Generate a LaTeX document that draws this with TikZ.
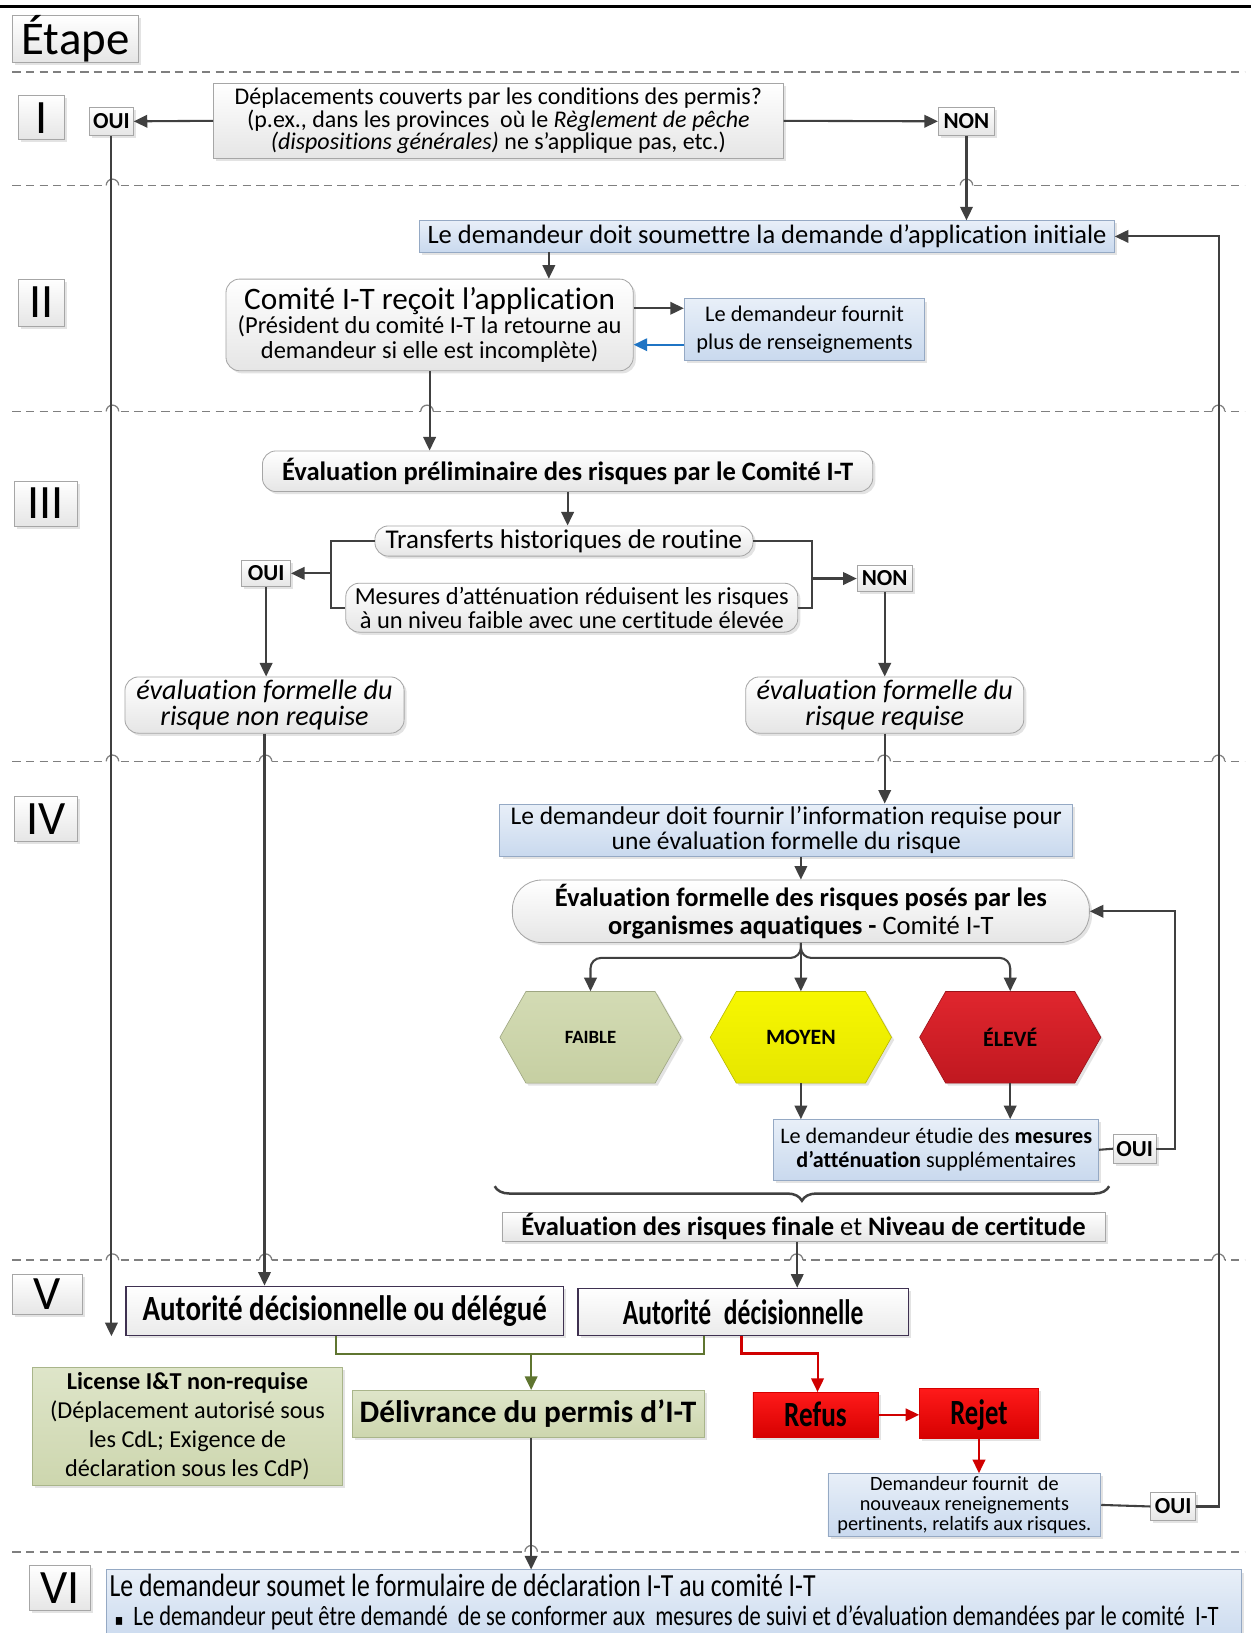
\documentclass[tikz,border=0pt]{standalone}
\usepackage{fontspec}
\usepackage{graphicx}
\setmainfont{Carlito}[Ligatures=NoCommon]
\newfontfamily\dejavu{DejaVu Sans}
\usetikzlibrary{arrows.meta,shadows,calc,decorations.pathreplacing}
\definecolor{arrgray}{HTML}{404040}
\definecolor{dashgray}{HTML}{7F7F7F}
\definecolor{bdgray}{HTML}{A6A6A6}
\definecolor{blueA}{HTML}{E8EFF8}
\definecolor{blueB}{HTML}{C9D9EE}
\definecolor{blueBd}{HTML}{95A9C4}
\definecolor{greenA}{HTML}{DEE5C9}
\definecolor{greenB}{HTML}{CDD6AE}
\definecolor{greenBd}{HTML}{A9B58A}
\definecolor{purpleBd}{HTML}{3F3151}
\definecolor{redA}{HTML}{FF1A1A}
\definecolor{redB}{HTML}{D60000}
\definecolor{olivearr}{HTML}{5F7530}
\definecolor{redarr}{HTML}{D00000}
\definecolor{bluearr}{HTML}{1F74C4}
\definecolor{hexG}{HTML}{D3DBB4}
\definecolor{hexGb}{HTML}{C6CFA2}
\definecolor{hexY}{HTML}{F7F700}
\definecolor{hexYb}{HTML}{E6E600}
\definecolor{hexR}{HTML}{E0262E}
\definecolor{hexRb}{HTML}{C01820}
\newcommand{\fs}[2]{\fontsize{#1}{#2}\selectfont}
\newcommand{\sepline}[2]{%
  \draw[dsh] (12,#1) -- (1195,#1);
  \foreach \hx in {#2} {
    \fill[white] (\hx-6,#1-2) rectangle (\hx+6,#1+2);
    \draw[dashgray, line width=1.2pt] (\hx-6,#1) arc[start angle=180,end angle=0,radius=6pt];
  }%
}
\newcommand{\hexa}[3]{%
  \path[shad, draw=#3!80!black, line width=0.6pt, top color=#2, bottom color=#3]
    (#1-87,996) -- (#1-62,952) -- (#1+62,952) -- (#1+87,996) -- (#1+62,1040) -- (#1-62,1040) -- cycle;
}
\begin{document}
\begin{tikzpicture}[x=1pt,y=-1pt,
  shad/.style={drop shadow={shadow xshift=2.5pt,shadow yshift=-2.5pt,opacity=0.22}},
  graybox/.style={draw=bdgray, line width=0.8pt, top color=white, bottom color=black!10, shad, inner sep=0pt, align=center},
  roundbox/.style={graybox, rounded corners=13pt},
  bluebox/.style={draw=blueBd, line width=0.8pt, top color=blueA, bottom color=blueB, shad, inner sep=0pt, align=center},
  greenbox/.style={draw=greenBd, line width=0.8pt, top color=greenA, bottom color=greenB, shad, inner sep=0pt, align=center},
  tagbox/.style={graybox, font=\bfseries\fs{22}{24}},
  stagebox/.style={graybox, font=\fs{46}{46}},
  authbox/.style={draw=purpleBd, line width=1.2pt, top color=white, bottom color=black!8, shad, inner sep=0pt, align=center, font=\bfseries\fs{34}{36}},
  redbox/.style={draw=redB, line width=0.8pt, top color=redA, bottom color=redB, shad, inner sep=0pt, align=center, font=\bfseries\fs{34}{36}, text height=22pt, text depth=0pt},
  arr/.style={draw=arrgray, line width=2pt, -{Triangle[length=13pt,width=12pt]}},
  ln/.style={draw=arrgray, line width=2pt},
  garr/.style={draw=olivearr, line width=2pt, -{Triangle[length=13pt,width=12pt]}},
  gln/.style={draw=olivearr, line width=2pt},
  rarr/.style={draw=redarr, line width=2pt, -{Triangle[length=13pt,width=12pt]}},
  barr/.style={draw=bluearr, line width=2pt, -{Triangle[length=13pt,width=12pt]}},
  dsh/.style={draw=dashgray, line width=1.4pt, dash pattern=on 8pt off 5pt},
]
\useasboundingbox (0,0) rectangle (1201,1568);
\fill[white] (0,0) rectangle (1201,1568);
\draw[black, line width=2.5pt] (0,6) -- (1201,6);

% separators
\draw[dsh] (12,69) -- (1195,69);
\sepline{178}{108,928}
\sepline{395}{108,410,1170}
\sepline{731}{108,255,849,1170}
\sepline{1210}{108,255,765,1170}
\sepline{1490}{510}

% stage labels
\node[graybox, minimum width=121pt, minimum height=39pt, font=\fs{45}{45}] (etape) at (72.5,37.5) {Étape};
\node[stagebox, minimum width=44pt, minimum height=42pt] (s1) at (40,113) {I};
\node[stagebox, minimum width=44pt, minimum height=45pt] (s2) at (40,290.5) {II};
\node[stagebox, minimum width=60pt, minimum height=43pt] (s3) at (44,483.5) {III};
\node[stagebox, minimum width=60pt, minimum height=43pt] (s4) at (44,786.5) {IV};
\node[stagebox, minimum width=67pt, minimum height=38pt] (s5) at (45.5,1243) {V};
\node[stagebox, minimum width=59pt, minimum height=43pt] (s6) at (57.5,1525) {VI};

% stage I
\node[graybox, minimum width=547pt, minimum height=72pt, font=\fs{23}{21.5}] (q1) at (478.5,116)
  {Déplacements couverts par les conditions des permis?\\(p.ex., dans les provinces\ \ où le \textit{Règlement de pêche}\\\textit{(dispositions générales)} ne s’applique pas, etc.)};
\node[tagbox, minimum width=42pt, minimum height=27pt] (oui1) at (107,116.5) {OUI};
\node[tagbox, minimum width=54pt, minimum height=27pt] (non1) at (928,116.5) {NON};

% stage II
\node[bluebox, minimum width=667pt, minimum height=30pt, font=\fs{25.5}{27}] (dem1) at (736.5,227) {Le demandeur doit soumettre la demande d’application initiale};
\node[roundbox, minimum width=391pt, minimum height=88pt, font=\fs{23.5}{23.5}] (comite) at (412.5,312)
  {{\fs{30}{30}Comité I-T reçoit l’application}\\(Président du comité I-T la retourne au\\demandeur si elle est incomplète)};
\node[bluebox, minimum width=231pt, minimum height=59pt, font=\fs{21.5}{26}] (fournit) at (772.5,316.5) {Le demandeur fournit\\plus de renseignements};

% stage III
\node[roundbox, minimum width=586pt, minimum height=39pt, font=\bfseries\fs{25.5}{27}] (evalprel) at (545,452.5) {Évaluation préliminaire des risques par le Comité I-T};
\node[roundbox, minimum width=363pt, minimum height=29pt, font=\fs{26}{27}] (transf) at (541.5,519.5) {Transferts historiques de routine};
\node[roundbox, minimum width=434pt, minimum height=47pt, font=\fs{23.5}{23}] (mesures) at (549,583.5) {Mesures d’atténuation réduisent les risques\\à un niveu faible avec une certitude élevée};
\node[tagbox, minimum width=47pt, minimum height=25pt] (oui3) at (255.5,550.5) {OUI};
\node[tagbox, minimum width=53pt, minimum height=25pt] (non3) at (849.5,555.5) {NON};
\node[roundbox, minimum width=268pt, minimum height=54pt, font=\itshape\fs{27}{24.5}] (enr) at (254,677) {évaluation formelle du\\risque non requise};
\node[roundbox, minimum width=267pt, minimum height=54pt, font=\itshape\fs{27}{24.5}] (er) at (849.5,677) {évaluation formelle du\\risque requise};

% stage IV
\node[bluebox, minimum width=550pt, minimum height=50pt, font=\fs{24.5}{24.5}] (dem4) at (755,797) {Le demandeur doit fournir l’information requise pour\\une évaluation formelle du risque};
\node[roundbox, rounded corners=28pt, minimum width=554pt, minimum height=60pt, font=\fs{25.5}{27}] (evalform) at (769,875)
  {\textbf{Évaluation formelle des risques posés par les}\\\textbf{organismes aquatiques -} Comité I-T};
\hexa{567}{hexG}{hexGb}
\hexa{769}{hexY}{hexYb}
\hexa{970}{hexR}{hexRb}
\node[minimum width=174pt, minimum height=88pt, inner sep=0pt, font=\bfseries\fs{18}{20}] (faible) at (567,996) {FAIBLE};
\node[minimum width=174pt, minimum height=88pt, inner sep=0pt, font=\bfseries\fs{21}{22}] (moyen) at (769,996) {MOYEN};
\node[minimum width=174pt, minimum height=88pt, inner sep=0pt, font=\bfseries\fs{21}{22}] (eleve) at (970,996) {ÉLEVÉ};
\node[bluebox, minimum width=312pt, minimum height=58pt, font=\fs{21.3}{23.5}] (etudie) at (899,1104) {Le demandeur étudie des \textbf{mesures}\\\textbf{d'atténuation} supplémentaires};
\node[tagbox, minimum width=41pt, minimum height=28pt] (oui4) at (1089.5,1103) {OUI};
\coordinate (brR) at (1065,1139);
\coordinate (brL) at (475,1139);
\node[graybox, minimum width=579pt, minimum height=28pt, font=\fs{25.5}{27}] (final) at (771.5,1178) {\textbf{Évaluation des risques finale} et \textbf{Niveau de certitude}};

% stage V
\node[authbox, minimum width=420pt, minimum height=47pt] (aodd) at (331,1258.5) {\resizebox{388pt}{\height}{Autorité décisionnelle ou délégué}};
\node[authbox, minimum width=317pt, minimum height=45pt] (ad) at (713.5,1259.5) {\resizebox{231pt}{\height}{Autorité\enspace décisionnelle}};
\node[greenbox, minimum width=298pt, minimum height=113pt, font=\fs{23.3}{28}] (license) at (180,1369.5)
  {\textbf{License I\&T non-requise}\\(Déplacement autorisé sous\\les CdL; Exigence de\\déclaration sous les CdP)};
\node[greenbox, minimum width=338pt, minimum height=45pt, font=\bfseries\fs{30}{32}] (deliv) at (507,1357.5) {Délivrance du permis d’I-T};
\node[redbox, minimum width=120pt, minimum height=43pt] (refus) at (783,1358.5) {\resizebox{60pt}{\height}{Refus}};
\node[redbox, minimum width=114pt, minimum height=48pt] (rejet) at (940,1357) {\resizebox{55pt}{\height}{Rejet}};
\node[bluebox, minimum width=262pt, minimum height=60pt, font=\fs{19.5}{19.5}] (nouv) at (926,1445)
  {Demandeur fournit\ \ de\\nouveaux reneignements\\pertinents, relatifs aux risques.};
\node[tagbox, minimum width=43pt, minimum height=27pt] (oui5) at (1126.5,1446.5) {OUI};

% stage VI
\node[bluebox, minimum width=1090pt, minimum height=72pt, anchor=north west] (vibox) at (102,1507) {};
\node[anchor=base west, inner sep=0pt, font=\fs{31}{31}] (vil1) at (105,1533) {\resizebox{678pt}{\height}{Le demandeur soumet le formulaire de déclaration I-T au comité I-T}};
\node[anchor=base west, inner sep=0pt, font=\fs{27}{27}] (vil2) at (110,1561) {\resizebox{1060pt}{\height}{{\dejavu\fs{15}{20}▪}\ \ Le demandeur peut être demandé\ \ de se conformer aux\ \ mesures de suivi et d’évaluation demandées par le comité\ \ I-T}};

% helper coordinates
\coordinate (cdc) at (527,0);
\coordinate (cf1) at ($(comite.east)+(0,-16)$);
\coordinate (cf2) at ($(comite.east)+(0,19)$);
\coordinate (bl) at (318,550.5);
\coordinate (br) at (780,555.5);
\coordinate (fleft) at ($(faible.north)+(0,-32)$);
\coordinate (fright) at ($(eleve.north)+(0,-32)$);
\coordinate (fin) at ($(final.south)+(-6,0)$);
\coordinate (oui1end) at (107,1283);
\coordinate (gm) at (510,1300);
\coordinate (ga) at ($(aodd.south)+(-8,0)$);
\coordinate (gb) at ($(ad.south)+(-37.5,0)$);
\coordinate (ra) at ($(ad.south)+(-1.5,0)$);
\coordinate (rb) at ($(refus.north)+(2,-37)$);
\coordinate (rc) at ($(refus.north)+(2,0)$);

% connectors
\draw[arr] (q1.west) -- (oui1.east);
\draw[arr] (q1.east) -- (non1.west);
\draw[arr] (non1.south) -- (non1.south |- dem1.north);
\draw[arr] (dem1.south -| cdc) -- (comite.north -| cdc);
\draw[arr] (cf1) -- (cf1 -| fournit.west);
\draw[barr] (cf2 -| fournit.west) -- (cf2);
\draw[arr] (comite.south) -- (comite.south |- evalprel.north);
\draw[arr] (evalprel.south) -- (evalprel.south |- transf.north);
\draw[ln] (transf.west) -| (bl) |- (mesures.west);
\draw[arr] (bl) -- (oui3.east);
\draw[ln] (transf.east) -| (br) |- (mesures.east);
\draw[arr] (br) -- (non3.west);
\draw[arr] (oui3.south) -- (oui3.south |- enr.north);
\draw[arr] (non3.south) -- (non3.south |- er.north);
\draw[arr] (enr.south) -- (enr.south |- aodd.north);
\draw[arr] (er.south) -- (er.south |- dem4.north);
\draw[arr] (dem4.south -| evalform.north) -- (evalform.north);
\draw[arr] (evalform.south) -- (moyen.north);
\draw[arr, rounded corners=10pt] (evalform.south) |- (fleft) -- (faible.north);
\draw[arr, rounded corners=10pt] (evalform.south) |- (fright) -- (eleve.north);
\draw[arr] (moyen.south) -- (moyen.south |- etudie.north);
\draw[arr] (eleve.south) -- (eleve.south |- etudie.north);
\draw[ln] (etudie.east) -- (oui4.west);
\draw[arr] (oui4.east) -- ++(18,0) |- (evalform.east);
\draw[arrgray, line width=2.4pt, decorate, decoration={brace, amplitude=14pt}] (brR) -- (brL);
\draw[arr] (fin) -- (fin |- ad.north);
\draw[arr] (oui1.south) -- (oui1end);
\draw[gln] (ga) |- (gm) -| (gb);
\draw[garr] (gm) -- (gm |- deliv.north);
\draw[rarr] (ra) |- (rb) -- (rc);
\draw[rarr] (refus.east) -- (rejet.west |- refus.east);
\draw[rarr] (rejet.south) -- (rejet.south |- nouv.north);
\draw[ln] (nouv.east) -- (oui5.west);
\draw[arr] (oui5.east) -- ++(22,0) |- (dem1.east);
\draw[arr] (deliv.south -| gm) -- (vibox.north -| gm);
\end{tikzpicture}
\end{document}
